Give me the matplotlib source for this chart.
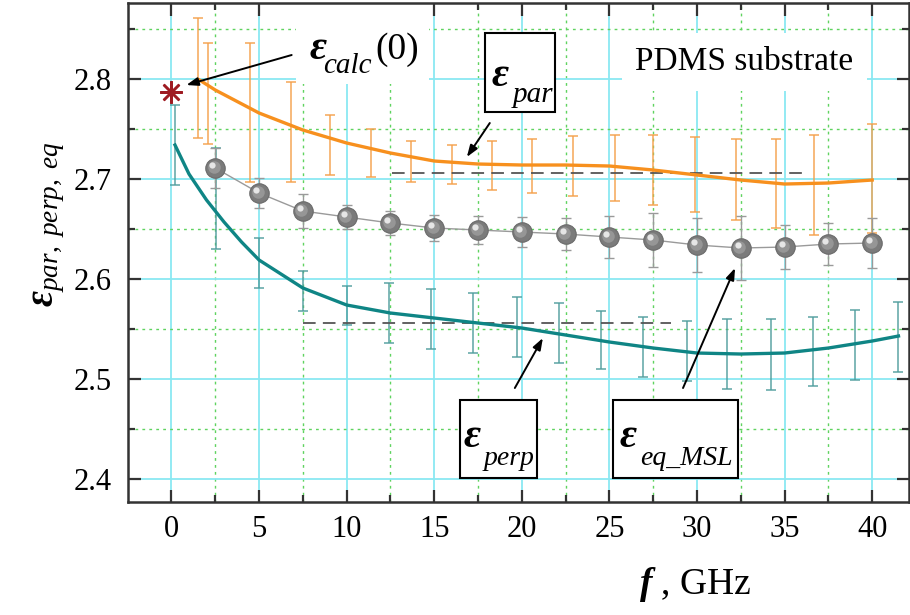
import matplotlib.pyplot as plt
from matplotlib.patches import Rectangle
from matplotlib.ticker import MultipleLocator
from matplotlib.transforms import offset_copy

plt.rcParams['font.family'] = 'Liberation Serif'
plt.rcParams['mathtext.fontset'] = 'custom'
plt.rcParams['mathtext.rm'] = 'Liberation Serif'
plt.rcParams['mathtext.it'] = 'Liberation Serif:italic'
plt.rcParams['mathtext.bf'] = 'Liberation Serif:bold'
plt.rcParams['mathtext.bfit'] = 'Liberation Serif:italic:bold'

# ---------------- data ----------------
# eps_par fitted curve
par_f = [1.6, 2.5, 5, 7.5, 10, 12.5, 15, 17.5, 20, 22.5, 25, 27.5, 30, 32.5, 35, 37.5, 40]
par_eps = [2.799, 2.789, 2.766, 2.749, 2.736, 2.726, 2.718, 2.715, 2.714, 2.714,
           2.713, 2.709, 2.704, 2.699, 2.695, 2.696, 2.699]
# eps_par measured spread (low / high)
par_bar_f = [1.5, 2.1, 4.5, 6.8, 9.05, 11.4, 13.7, 16.0, 18.3, 20.6, 22.9, 25.3,
             27.5, 29.9, 32.2, 34.5, 36.7, 40.0]
par_bar_lo = [2.741, 2.735, 2.697, 2.697, 2.704, 2.702, 2.697, 2.695, 2.689, 2.686,
              2.683, 2.678, 2.674, 2.667, 2.659, 2.651, 2.644, 2.646]
par_bar_hi = [2.861, 2.836, 2.836, 2.797, 2.764, 2.750, 2.738, 2.734, 2.738, 2.740,
              2.743, 2.744, 2.744, 2.742, 2.740, 2.740, 2.744, 2.755]

# eps_perp fitted curve
perp_f = [0.2, 1, 2, 3, 4, 5, 7.5, 10, 12.5, 15, 17.5, 20, 22.5, 25, 27.5, 30,
          32.5, 35, 37.5, 40, 41.5]
perp_eps = [2.734, 2.705, 2.679, 2.657, 2.637, 2.619, 2.591, 2.574, 2.566, 2.561,
            2.556, 2.551, 2.544, 2.537, 2.531, 2.526, 2.525, 2.526, 2.531, 2.538, 2.543]
perp_bar_f = [0.2, 2.55, 5.0, 7.5, 10.0, 12.4, 14.8, 17.2, 19.7, 22.1, 24.5, 26.9,
              29.4, 31.7, 34.2, 36.6, 39.0, 41.5]
perp_bar_lo = [2.694, 2.630, 2.591, 2.568, 2.554, 2.536, 2.530, 2.526, 2.522, 2.516,
               2.510, 2.502, 2.498, 2.490, 2.489, 2.493, 2.499, 2.507]
perp_bar_hi = [2.774, 2.731, 2.641, 2.608, 2.593, 2.596, 2.590, 2.586, 2.582, 2.576,
               2.568, 2.562, 2.558, 2.560, 2.560, 2.562, 2.569, 2.577]

# eps_eq from microstrip line measurements
eq_f = [2.5, 5, 7.5, 10, 12.5, 15, 17.5, 20, 22.5, 25, 27.5, 30, 32.5, 35, 37.5, 40]
eq_eps = [2.711, 2.686, 2.668, 2.662, 2.656, 2.651, 2.649, 2.647, 2.645, 2.642,
          2.639, 2.634, 2.631, 2.632, 2.635, 2.636]
eq_err = [0.020, 0.015, 0.017, 0.012, 0.012, 0.013, 0.014, 0.015, 0.016, 0.021,
          0.027, 0.027, 0.032, 0.022, 0.021, 0.025]

# calculated static value
calc0_f, calc0_eps = 0.0, 2.787

# averaged levels
par_mean, par_mean_span = 2.706, (12.6, 36.2)
perp_mean, perp_mean_span = 2.556, (7.5, 28.5)

# ---------------- style ----------------
ORANGE = '#f7901e'
ORANGE_BAR = '#f5a04a'
TEAL = '#0f8585'
TEAL_BAR = '#4f9d9d'
CYAN = '#8ae8f2'
GREEN = '#5fd35f'
AXIS = '#333333'

fig = plt.figure(figsize=(9.1, 6.15), dpi=100)
ax = fig.add_axes([0.1407, 0.1837, 0.8582, 0.8114])

ax.set_xlim(-2.48, 42.1)
ax.set_ylim(2.377, 2.876)
ax.xaxis.set_major_locator(MultipleLocator(5))
ax.xaxis.set_minor_locator(MultipleLocator(2.5))
ax.yaxis.set_major_locator(MultipleLocator(0.1))
ax.yaxis.set_minor_locator(MultipleLocator(0.05))

ax.set_axisbelow(True)
ax.grid(which='major', color=CYAN, lw=1.3, ls='-')
ax.grid(which='minor', color=GREEN, lw=1.0, ls=(0, (2, 3)))

ax.tick_params(which='both', direction='in', top=True, right=True,
               width=1.6, color=AXIS, labelsize=22)
ax.tick_params(which='major', length=9)
ax.tick_params(which='minor', length=5)
ax.tick_params(axis='y', pad=12)
ax.tick_params(axis='x', pad=9)
for s in ax.spines.values():
    s.set_linewidth(1.8)
    s.set_color(AXIS)

# white patch behind the eps_calc label
ax.add_patch(Rectangle((7.1, 2.795), 7.6, 0.09, fc='white', ec='none', zorder=1))

# averaged levels
ax.hlines(par_mean, *par_mean_span, colors='#555555', linestyles=(0, (7, 4)), lw=1.3, zorder=2.5)
ax.hlines(perp_mean, *perp_mean_span, colors='#555555', linestyles=(0, (7, 4)), lw=1.3, zorder=2.5)

# spread bars
par_mid = [(lo + hi) / 2 for lo, hi in zip(par_bar_lo, par_bar_hi)]
par_half = [(hi - lo) / 2 for lo, hi in zip(par_bar_lo, par_bar_hi)]
ax.errorbar(par_bar_f, par_mid, yerr=par_half, fmt='none', ecolor=ORANGE_BAR,
            elinewidth=1.2, capsize=3.5, capthick=1.2, alpha=0.85, zorder=2)
perp_mid = [(lo + hi) / 2 for lo, hi in zip(perp_bar_lo, perp_bar_hi)]
perp_half = [(hi - lo) / 2 for lo, hi in zip(perp_bar_lo, perp_bar_hi)]
ax.errorbar(perp_bar_f, perp_mid, yerr=perp_half, fmt='none', ecolor=TEAL_BAR,
            elinewidth=1.2, capsize=3.5, capthick=1.2, alpha=0.85, zorder=2)

# fitted curves
ax.plot(par_f, par_eps, color=ORANGE, lw=2.4, zorder=3)
ax.plot(perp_f, perp_eps, color=TEAL, lw=2.4, zorder=3)

# eq spheres
ax.errorbar(eq_f, eq_eps, yerr=eq_err, fmt='none', ecolor='#9a9a9a',
            elinewidth=1.0, capsize=3.5, capthick=1.0, zorder=2.6)
ax.plot(eq_f, eq_eps, color='#9a9a9a', lw=1.0, zorder=3)
ax.plot(eq_f, eq_eps, 'o', ms=14, mfc='#7b7b7b', mec='#6a6a6a', mew=0.8, zorder=4)
shade = offset_copy(ax.transData, fig=fig, x=-1.5, y=1.5, units='dots')
ax.plot(eq_f, eq_eps, 'o', ms=9, mfc='#969696', mec='none', transform=shade, zorder=4.1)
shine = offset_copy(ax.transData, fig=fig, x=-3, y=3, units='dots')
ax.plot(eq_f, eq_eps, 'o', ms=4.5, mfc='#e6e6e6', mec='none', transform=shine, zorder=4.2)

# calculated static point
ax.plot([calc0_f], [calc0_eps], marker=(8, 2, 0), ms=16, mec='#9e1b22', mew=1.8,
        ls='none', zorder=6)

arrow = dict(arrowstyle='-|>,head_length=0.7,head_width=0.25', color='black',
             lw=1.4, shrinkA=0, shrinkB=0)

# eps_calc(0) label
ax.text(8.34, 2.830, 'ε', fontsize=30, fontweight='bold', fontstyle='italic',
        ha='center', va='center', zorder=7)
ax.text(10.06, 2.813, 'calc', fontsize=21, fontstyle='italic', ha='center', va='center', zorder=7)
ax.text(12.86, 2.829, '(0)', fontsize=27, ha='center', va='center', zorder=7)
ax.annotate('', xy=(calc0_f + 0.85, calc0_eps + 0.007), xytext=(6.86, 2.824),
            arrowprops=arrow, zorder=7)


def boxed_eps(x0, y0, w, h, eps_xy, sub, sub_xy, sub_size=20):
    ax.add_patch(Rectangle((x0, y0), w, h, fc='white', ec='black', lw=1.5, zorder=6))
    ax.text(*eps_xy, 'ε', fontsize=30, fontweight='bold', fontstyle='italic',
            ha='left', va='center', zorder=7)
    ax.text(*sub_xy, sub, fontsize=sub_size, fontstyle='italic', ha='left', va='center', zorder=7)


boxed_eps(17.89, 2.767, 4.0, 0.079, (18.29, 2.803), 'par', (19.45, 2.784), sub_size=21)
ax.annotate('', xy=(16.86, 2.722), xytext=(18.17, 2.756), arrowprops=arrow, zorder=7)

boxed_eps(16.46, 2.401, 4.4, 0.078, (16.69, 2.442), 'perp', (17.80, 2.421))
ax.annotate('', xy=(21.2, 2.541), xytext=(19.6, 2.491), arrowprops=arrow, zorder=7)

boxed_eps(25.2, 2.401, 7.14, 0.078, (25.6, 2.442), 'eq_MSL', (26.74, 2.421))
ax.annotate('', xy=(32.17, 2.611), xytext=(29.2, 2.491), arrowprops=arrow, zorder=7)

ax.text(32.69, 2.817, 'PDMS substrate', fontsize=24, ha='center', va='center', zorder=7,
        bbox=dict(boxstyle='square,pad=0.4', fc='white', ec='none'))

# axis labels
fig.text(0.053, 0.636, r'$\mathbfit{\varepsilon}_{par,\ perp,\ eq}$', rotation=90,
         fontsize=28, ha='center', va='center')
fig.text(0.764, 0.049, r'$\mathbfit{f}$ , GHz', fontsize=27, ha='center', va='center')

fig.savefig('out.png', dpi=100)
